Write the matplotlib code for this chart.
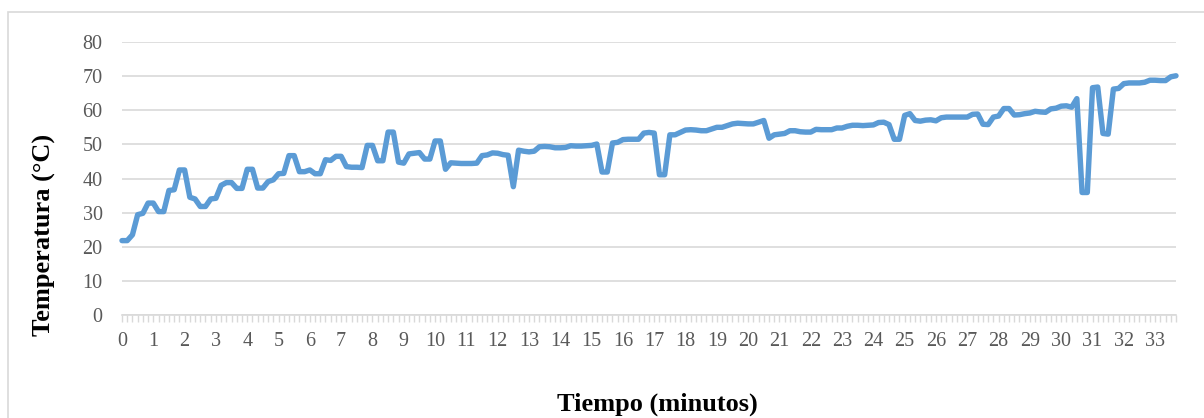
import matplotlib
matplotlib.use("Agg")
import matplotlib.pyplot as plt
from matplotlib.patches import Rectangle
from matplotlib.ticker import MultipleLocator

# temperature readings, one every 10 s (6 per minute)
temperatura = [
    21.8, 21.8, 23.5, 29.4, 29.8, 32.8, 32.8, 30.3, 30.3, 36.5,
    36.7, 42.5, 42.5, 34.5, 34.0, 31.8, 31.8, 34.0, 34.2, 38.0,
    38.8, 38.8, 37.1, 37.1, 42.7, 42.7, 37.2, 37.2, 39.1, 39.6,
    41.4, 41.5, 46.7, 46.7, 42.0, 42.0, 42.5, 41.4, 41.4, 45.5,
    45.3, 46.5, 46.5, 43.5, 43.3, 43.3, 43.2, 49.7, 49.7, 45.2,
    45.2, 53.6, 53.6, 44.8, 44.5, 47.2, 47.4, 47.6, 45.7, 45.7,
    51.0, 51.0, 42.7, 44.6, 44.5, 44.4, 44.4, 44.4, 44.5, 46.7,
    46.9, 47.5, 47.4, 47.0, 46.8, 37.6, 48.3, 48.0, 47.8, 48.0,
    49.3, 49.4, 49.3, 49.0, 49.0, 49.1, 49.6, 49.5, 49.5, 49.6,
    49.7, 50.1, 41.9, 41.9, 50.4, 50.6, 51.4, 51.5, 51.5, 51.5,
    53.3, 53.5, 53.3, 41.1, 41.1, 52.8, 52.8, 53.5, 54.2, 54.3,
    54.2, 54.0, 54.0, 54.5, 55.0, 55.0, 55.5, 56.0, 56.2, 56.1,
    56.0, 56.0, 56.5, 57.0, 51.8, 52.8, 53.0, 53.2, 54.0, 54.0,
    53.7, 53.6, 53.6, 54.4, 54.3, 54.3, 54.3, 54.8, 54.8, 55.3,
    55.6, 55.6, 55.5, 55.6, 55.7, 56.4, 56.5, 55.8, 51.5, 51.5,
    58.5, 59.0, 57.0, 56.8, 57.1, 57.2, 56.9, 57.8, 58.0, 58.0,
    58.0, 58.0, 58.0, 58.8, 58.9, 55.9, 55.8, 58.0, 58.3, 60.5,
    60.5, 58.6, 58.7, 59.0, 59.2, 59.7, 59.5, 59.4, 60.4, 60.6,
    61.2, 61.3, 60.9, 63.4, 35.9, 35.9, 66.6, 66.8, 53.2, 53.0,
    66.2, 66.4, 67.8, 68.0, 68.0, 68.0, 68.2, 68.8, 68.8, 68.7,
    68.7, 69.8, 70.1,
]
tiempo = [i / 6 for i in range(len(temperatura))]
minutos = list(range(0, 34))
y_ticks = list(range(0, 81, 10))

W, H = 1204, 418
fig = plt.figure(figsize=(W / 100, H / 100), dpi=100)
fig.patches.append(Rectangle((8 / W, -0.1), 1.2, 1 - 12 / H + 0.1, transform=fig.transFigure,
                             fill=False, edgecolor="#d9d9d9", linewidth=1.2))

ax_w = 1176 - 122
ax_h = 315 - 42
ax = fig.add_axes([122 / W, (H - 315) / H, ax_w / W, ax_h / H])
ax.plot(tiempo, temperatura, color="#5b9bd5", linewidth=3.9,
        solid_joinstyle="round", solid_capstyle="round", clip_on=False)

ax.set_xlim(0, tiempo[-1])
ax.set_ylim(0, 80)
ax.set_yticks(y_ticks)
ax.set_xticks(minutos)
ax.xaxis.set_minor_locator(MultipleLocator(1 / 6))
ax.grid(axis="y", color="#d9d9d9", linewidth=1.2)
ax.set_axisbelow(True)

for s in ["top", "right", "left"]:
    ax.spines[s].set_visible(False)
ax.spines["bottom"].set_color("#d9d9d9")
ax.spines["bottom"].set_linewidth(1.2)

font = "Liberation Serif"
ax.tick_params(axis="y", length=0, pad=14, labelsize=14.5, labelcolor="#595959")
ax.tick_params(axis="x", which="both", length=5, color="#d9d9d9", width=1,
               pad=7, labelsize=14.5, labelcolor="#595959")
for lab in ax.get_xticklabels() + ax.get_yticklabels():
    lab.set_fontfamily(font)

ax.set_ylabel("Temperatura (°C)", fontfamily=font, fontweight="bold", fontsize=19)
ax.set_xlabel("Tiempo (minutos)", fontfamily=font, fontweight="bold", fontsize=19)
ax.yaxis.set_label_coords(-(122 - 56) / ax_w, (315 - 235) / ax_h)
ax.xaxis.set_label_coords((657 - 122) / ax_w, -(393 - 315) / ax_h)

fig.savefig("out.png", dpi=100)
